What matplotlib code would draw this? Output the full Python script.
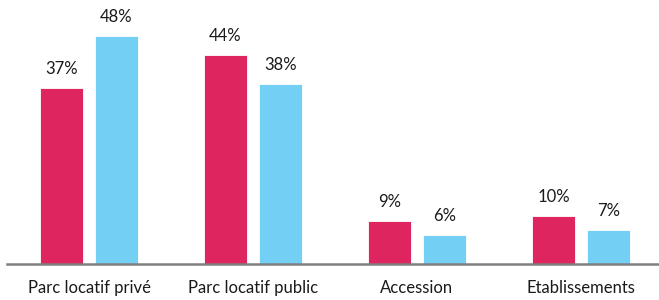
import matplotlib
matplotlib.use("Agg")
import matplotlib.pyplot as plt
import numpy as np

categories = ["Parc locatif privé", "Parc locatif public", "Accession", "Etablissements"]
series_a = [37, 44, 9, 10]
series_b = [48, 38, 6, 7]
labels_a = ["37%", "44%", "9%", "10%"]
labels_b = ["48%", "38%", "6%", "7%"]

plt.rcParams['font.family'] = ['Lato', 'DejaVu Sans']

W, H = 659, 300
fig = plt.figure(figsize=(W/100, H/100), dpi=100)
# axes from pixel x=7 to 663 (clipped), baseline at y=263
ax_left = 7 / W
ax_w = 656 / W
ax_bottom = (H - 263.5) / H
ax_h = 263.5 / H
ax = fig.add_axes([ax_left, ax_bottom, ax_w, ax_h])

x = np.arange(len(categories))
bw = 43 / 164
off = 27.5 / 164
ca = "#DF2560"
cb = "#74CFF5"
ax.bar(x - off, series_a, bw, color=ca, edgecolor="white", linewidth=0.6)
ax.bar(x + off, series_b, bw, color=cb, edgecolor="white", linewidth=0.6)

ax.set_xlim(-0.5, 3.5)
ax.set_ylim(0, 263.5 / 4.73)

for xi, v, t in zip(x - off, series_a, labels_a):
    ax.annotate(t, (xi, v), xytext=(0, 8), textcoords="offset points",
                ha="center", va="bottom", fontsize=12, color="#1a1a1a")
for xi, v, t in zip(x + off, series_b, labels_b):
    ax.annotate(t, (xi, v), xytext=(0, 8), textcoords="offset points",
                ha="center", va="bottom", fontsize=12, color="#1a1a1a")

for s in ["top", "right", "left"]:
    ax.spines[s].set_visible(False)
ax.spines["bottom"].set_color("#7F7F7F")
ax.spines["bottom"].set_linewidth(1.8)
ax.set_yticks([])
ax.set_xticks(x)
ax.set_xticklabels(categories, fontsize=12, color="#1a1a1a")
ax.tick_params(axis="x", length=0, pad=12)

fig.savefig("out.png", dpi=100)
